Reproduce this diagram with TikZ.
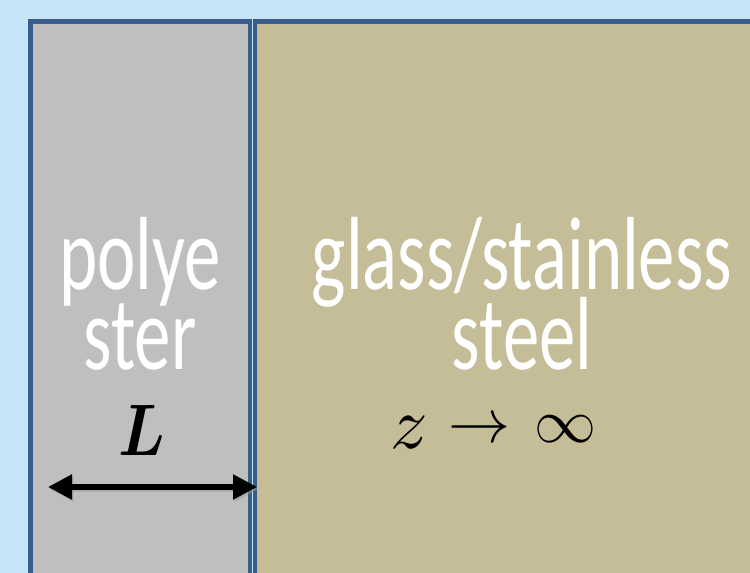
\documentclass[tikz,border=0pt]{standalone}
\usepackage{fontspec}
\setmainfont{Carlito}
\usetikzlibrary{arrows.meta}
\definecolor{skyback}{HTML}{C6E4F8}
\definecolor{layergrey}{HTML}{BFBFBF}
\definecolor{layertan}{HTML}{C4BD97}
\definecolor{edgeblue}{HTML}{385D8A}
\newcommand{\narrowtext}[1]{\scalebox{0.7}[1]{#1}}
\newcommand{\layerfont}{\fontsize{104}{80}\selectfont\setlength{\lineskiplimit}{-200pt}}
\tikzset{
  layer/.style={draw=edgeblue, line width=4.8pt},
  label/.style={text=white, align=center, anchor=base, inner sep=0pt, text depth=2pt, font=\layerfont},
  mathlabel/.style={inner sep=0pt},
  span/.style={line width=5.5pt, {Triangle[length=24pt,width=24pt]}-{Triangle[length=24pt,width=24pt]}}
}
\begin{document}
\begin{tikzpicture}[x=1pt,y=-1pt]
  \useasboundingbox (0,0) rectangle (750,573);
  \fill[skyback] (0,0) rectangle (750,573);
  % polyester film and the substrate behind it
  \filldraw[layer, fill=layergrey] (30.5,21.5) rectangle (250,575);
  \filldraw[layer, fill=layertan] (255,21.5) rectangle (800,575);
  % labels (anchored at the baseline of the last line)
  \node[label] (poly) at (140,369) {\narrowtext{polye}\\\narrowtext{ster}};
  \node[label] (sub) at (522,369) {\narrowtext{glass/stainless}\\\narrowtext{steel}};
  \node[mathlabel, anchor=base] (len) at (142,455) {\scalebox{6.2}[7.3]{\boldmath$L$}};
  \node[mathlabel, anchor=base west] (lim) at (390,448)
    {\scalebox{7.4}{$z$}\kern21pt\raisebox{6pt}{\scalebox{6.2}{$\to$}}\kern24pt\raisebox{6pt}{\scalebox{6.2}{$\infty$}}};
  % thickness arrow
  \coordinate (ta) at (48,487);
  \coordinate (tb) at (257,487);
  \coordinate (tas) at (49.5,489);
  \coordinate (tbs) at (258.5,489);
  \draw[span, black!40, opacity=0.5] (tas) -- (tbs);
  \draw[span] (ta) -- (tb);
\end{tikzpicture}
\end{document}
